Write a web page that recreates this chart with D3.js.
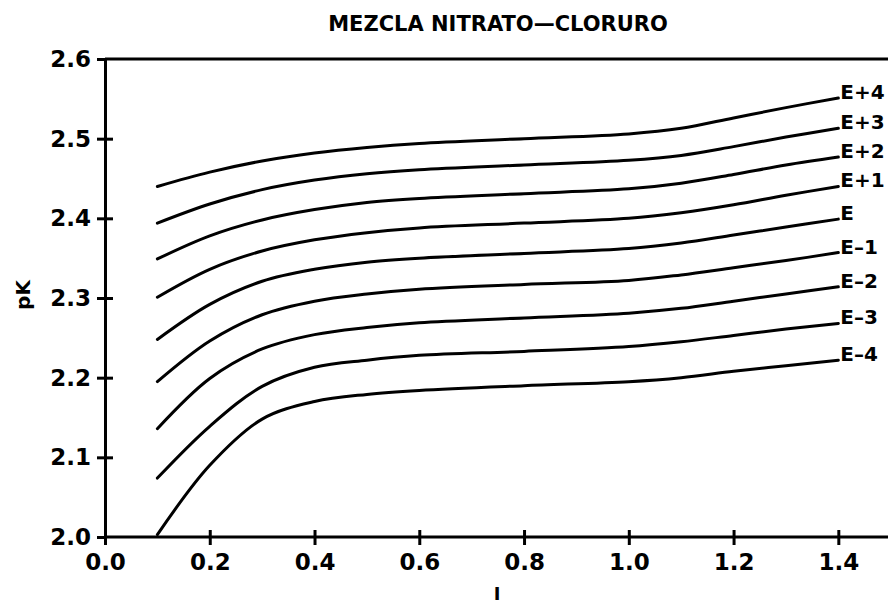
<!DOCTYPE html>
<html>
<head>
<meta charset="utf-8">
<script src="https://cdn.jsdelivr.net/npm/d3@7"></script>
<style>
  html, body { margin: 0; padding: 0; background: #fff; }
  svg { display: block; }
  text { font-family: "DejaVu Sans", sans-serif; font-weight: bold; fill: #000; }
</style>
</head>
<body>
<svg id="chart" width="888" height="608"></svg>
<script>
// ---- data ----
const title = "MEZCLA NITRATO—CLORURO";
const xLabel = "I";
const yLabel = "pK";
const xTicks = [0.0, 0.2, 0.4, 0.6, 0.8, 1.0, 1.2, 1.4];
const yTicks = [2.0, 2.1, 2.2, 2.3, 2.4, 2.5, 2.6];
const ionicStrength = [0.1, 0.2, 0.3, 0.4, 0.5, 0.6, 0.8, 1.0, 1.1, 1.2, 1.3, 1.4];
const seriesNames = ["E+4", "E+3", "E+2", "E+1", "E", "E–1", "E–2", "E–3", "E–4"];
const pK_Ep4 = [2.440, 2.458, 2.472, 2.482, 2.489, 2.494, 2.500, 2.506, 2.513, 2.526, 2.539, 2.551];
const pK_Ep3 = [2.394, 2.418, 2.436, 2.448, 2.456, 2.461, 2.467, 2.473, 2.479, 2.490, 2.502, 2.513];
const pK_Ep2 = [2.349, 2.378, 2.398, 2.411, 2.420, 2.425, 2.431, 2.437, 2.444, 2.455, 2.467, 2.477];
const pK_Ep1 = [2.301, 2.336, 2.359, 2.373, 2.382, 2.388, 2.394, 2.400, 2.407, 2.417, 2.429, 2.440];
const pK_E   = [2.248, 2.292, 2.321, 2.336, 2.345, 2.350, 2.356, 2.362, 2.369, 2.379, 2.389, 2.399];
const pK_Em1 = [2.195, 2.246, 2.279, 2.296, 2.305, 2.311, 2.317, 2.322, 2.329, 2.338, 2.347, 2.357];
const pK_Em2 = [2.136, 2.199, 2.236, 2.254, 2.263, 2.269, 2.275, 2.281, 2.287, 2.296, 2.305, 2.314];
const pK_Em3 = [2.074, 2.139, 2.189, 2.213, 2.222, 2.228, 2.233, 2.239, 2.245, 2.253, 2.261, 2.268];
const pK_Em4 = [2.003, 2.090, 2.148, 2.170, 2.179, 2.184, 2.190, 2.195, 2.200, 2.208, 2.215, 2.222];
const seriesValues = [pK_Ep4, pK_Ep3, pK_Ep2, pK_Ep1, pK_E, pK_Em1, pK_Em2, pK_Em3, pK_Em4];

// ---- layout ----
const svg = d3.select("#chart");
const plotLeft = 105, plotTop = 59, plotBottom = 537;
const x = d3.scaleLinear().domain([0, 1.5]).range([plotLeft, plotLeft + 1.5 * 523.8]);
const y = d3.scaleLinear().domain([2.0, 2.6]).range([plotBottom, plotTop]);
const SW = 3;

// title
svg.append("text").attr("x", 498).attr("y", 31).attr("text-anchor", "middle")
  .style("font-size", "21px").text(title);

// frame top line
svg.append("line").attr("x1", x(0)).attr("x2", x(1.5)).attr("y1", y(2.6)).attr("y2", y(2.6))
  .attr("stroke", "#000").attr("stroke-width", SW);

function styleAxis(g) {
  g.select(".domain").attr("stroke", "#000").attr("stroke-width", SW);
  g.selectAll(".tick line").attr("stroke", "#000").attr("stroke-width", SW);
  g.selectAll(".tick text").style("font-size", "23px").style("font-family", "DejaVu Sans")
    .style("font-weight", "bold").attr("fill", "#000");
}

// y axis (ticks crossing the axis)
const yAxisOut = svg.append("g").attr("transform", `translate(${plotLeft},0)`)
  .call(d3.axisLeft(y).tickValues(yTicks).tickSize(8).tickPadding(6).tickFormat(d3.format(".1f")));
styleAxis(yAxisOut);
const yAxisIn = svg.append("g").attr("transform", `translate(${plotLeft},0)`)
  .call(d3.axisRight(y).tickValues(yTicks.filter(v => v > 2.0 && v < 2.6)).tickSize(8).tickFormat(""));
styleAxis(yAxisIn);
yAxisIn.select(".domain").remove();

// x axis
const xAxisOut = svg.append("g").attr("transform", `translate(0,${plotBottom})`)
  .call(d3.axisBottom(x).tickValues(xTicks).tickSize(8).tickPadding(9).tickFormat(d3.format(".1f")));
styleAxis(xAxisOut);
xAxisOut.select(".domain").attr("d", `M${x(0)},0H${x(1.5)}`);
const xAxisIn = svg.append("g").attr("transform", `translate(0,${plotBottom})`)
  .call(d3.axisTop(x).tickValues(xTicks.filter(v => v > 0)).tickSize(7).tickFormat(""));
styleAxis(xAxisIn);
xAxisIn.select(".domain").remove();

// axis titles
svg.append("text").attr("transform", "translate(30,295) rotate(-90)")
  .attr("text-anchor", "middle").style("font-size", "20px").text(yLabel);
svg.append("text").attr("x", 497).attr("y", 600).attr("text-anchor", "middle")
  .style("font-size", "18px").text(xLabel);

// curves
const line = d3.line().x(d => x(d[0])).y(d => y(d[1])).curve(d3.curveCatmullRom.alpha(0.5));
seriesValues.forEach((vals, i) => {
  const pts = ionicStrength.map((xi, j) => [xi, vals[j]]);
  svg.append("path").attr("d", line(pts)).attr("fill", "none")
    .attr("stroke", "#000").attr("stroke-width", SW).attr("stroke-linecap", "round");
  const last = pts[pts.length - 1];
  svg.append("text").attr("x", x(last[0]) + 2).attr("y", y(last[1]))
    .attr("dy", "0.05em").style("font-size", "20px").text(seriesNames[i]);
});
</script>
</body>
</html>
